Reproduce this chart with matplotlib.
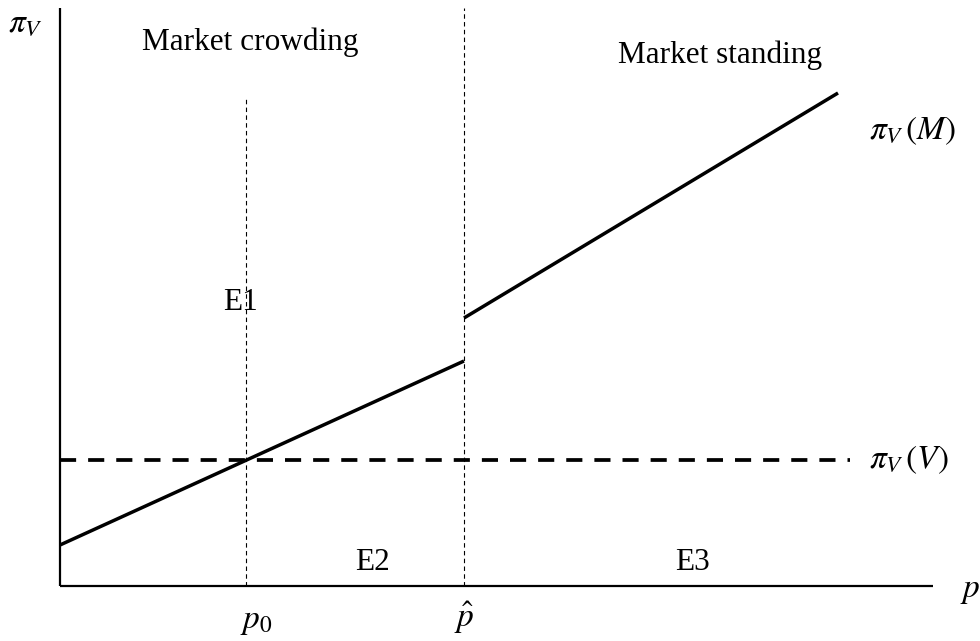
import matplotlib
matplotlib.use("Agg")
import matplotlib.pyplot as plt

plt.rcParams['mathtext.fontset'] = 'stix'
plt.rcParams['font.family'] = ['Liberation Serif', 'DejaVu Serif']

# Data (arbitrary units, origin at the axes corner)
p_low = [0, 404]
pi_low = [41, 225]
p_high = [404, 778]
pi_high = [268, 493]
p_flat = [0, 790]
pi_flat = [126, 126]
p0 = 186
p_hat = 404
x_axis_end = 873
y_axis_top = 578
p0_line_top = 489

fig = plt.figure(figsize=(9.8, 6.41), dpi=100)
ax = fig.add_axes([0, 0, 1, 1])
ax.set_xlim(-60, 920)
ax.set_ylim(-55, 586)
ax.axis('off')

# axes
ax.plot([0, 0], [0, y_axis_top], color='black', lw=1.6, solid_capstyle='butt')
ax.plot([0, x_axis_end], [0, 0], color='black', lw=1.6, solid_capstyle='butt')

# vertical dashed guides
ax.plot([p0, p0], [0, p0_line_top], color='black', lw=0.8, ls=(0, (4, 3)))
ax.plot([p_hat, p_hat], [0, y_axis_top], color='black', lw=0.8, ls=(0, (4, 3)))

# lines
ax.plot(p_low, pi_low, color='black', lw=2.5, solid_capstyle='butt')
ax.plot(p_high, pi_high, color='black', lw=2.5, solid_capstyle='butt')
ax.plot(p_flat, pi_flat, color='black', lw=2.7, ls=(0, (4.3, 3.2)))

fs = 22.5
ax.text(190, 544, 'Market crowding', fontsize=fs, ha='center', va='center')
ax.text(660, 531, 'Market standing', fontsize=fs, ha='center', va='center')
ax.text(180, 283, 'E1', fontsize=fs, ha='center', va='center')
ax.text(312, 24, 'E2', fontsize=fs, ha='center', va='center')
ax.text(632, 24, 'E3', fontsize=fs, ha='center', va='center')

ms = 24
ax.text(809, 455, r'$\pi_V\,(M)$', fontsize=ms, ha='left', va='center')
ax.text(809, 126, r'$\pi_V\,(V)$', fontsize=ms, ha='left', va='center')
ax.text(-52, 563, r'$\pi_V$', fontsize=ms, ha='left', va='center')
ax.text(900, -5, r'$p$', fontsize=ms, ha='left', va='center')
ax.text(p0 + 10, -36, r'$p_0$', fontsize=ms, ha='center', va='center')
ax.text(p_hat, -32, r'$\hat{p}$', fontsize=ms, ha='center', va='center')

fig.savefig('out.png', dpi=100)
